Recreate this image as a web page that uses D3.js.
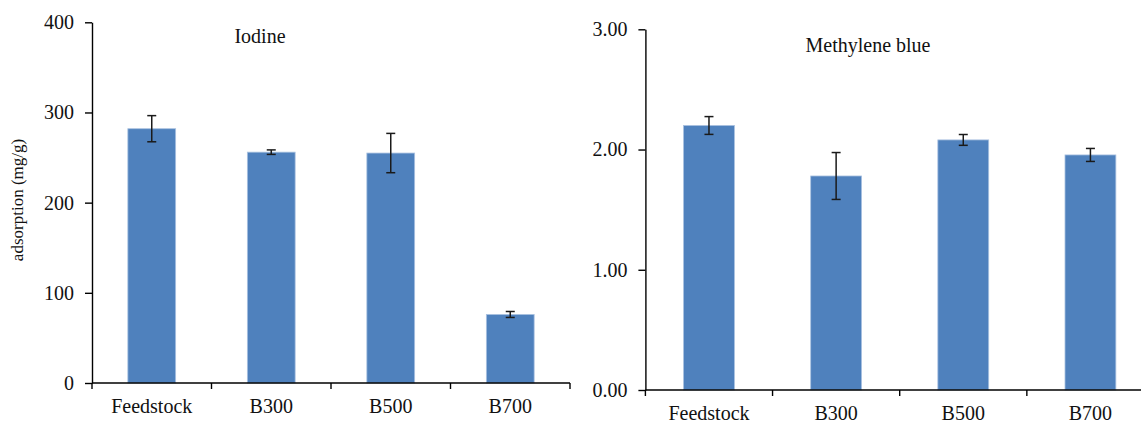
<!DOCTYPE html>
<html>
<head>
<meta charset="utf-8">
<script src="https://cdn.jsdelivr.net/npm/d3@7"></script>
<style>
  html, body { margin: 0; padding: 0; background: #fff; }
  svg { display: block; }
  text { font-family: "Liberation Serif", "Times New Roman", serif; fill: #111; }
</style>
</head>
<body>
<svg id="chart" width="1141" height="423"></svg>
<script>
// Sample categories
const categories = ["Feedstock", "B300", "B500", "B700"];

// Iodine adsorption (mg/g) with standard deviations
const iodineValues = [282, 256, 255, 76];
const iodineErrors = [14.5, 2.5, 21.8, 3.3];
const iodineTicks = [0, 100, 200, 300, 400];

// Methylene blue adsorption (mg/g) with standard deviations
const mbValues = [2.20, 1.78, 2.08, 1.955];
const mbErrors = [0.074, 0.195, 0.045, 0.054];
const mbTicks = [0, 1, 2, 3];

const serif = '"Liberation Serif", "Times New Roman", serif';
const svg = d3.select("#chart");
const barColor = "#4f81bd";

function panel(cfg) {
  const g = svg.append("g");
  const x = d3.scaleBand()
    .domain(categories)
    .range([cfg.x0, cfg.x1])
    .paddingInner(0.6)
    .paddingOuter(0.3);
  const y = d3.scaleLinear().domain(cfg.domain).range([cfg.y0, cfg.y1]);

  // bars
  g.selectAll("rect.bar")
    .data(categories)
    .join("rect")
    .attr("class", "bar")
    .attr("x", d => x(d))
    .attr("width", x.bandwidth())
    .attr("y", (d, i) => y(cfg.values[i]))
    .attr("height", (d, i) => y(0) - y(cfg.values[i]))
    .attr("fill", barColor)
    .attr("stroke", "#a9c1e0")
    .attr("stroke-width", 0.8);

  // error bars
  const cap = 4.5;
  const eb = g.selectAll("g.err")
    .data(categories)
    .join("g")
    .attr("class", "err")
    .attr("stroke", "#1a1a1a")
    .attr("stroke-width", 1.5);
  eb.append("line")
    .attr("x1", d => x(d) + x.bandwidth() / 2)
    .attr("x2", d => x(d) + x.bandwidth() / 2)
    .attr("y1", (d, i) => y(cfg.values[i] + cfg.errors[i]))
    .attr("y2", (d, i) => y(cfg.values[i] - cfg.errors[i]));
  eb.append("line")
    .attr("x1", d => x(d) + x.bandwidth() / 2 - cap)
    .attr("x2", d => x(d) + x.bandwidth() / 2 + cap)
    .attr("y1", (d, i) => y(cfg.values[i] + cfg.errors[i]))
    .attr("y2", (d, i) => y(cfg.values[i] + cfg.errors[i]));
  eb.append("line")
    .attr("x1", d => x(d) + x.bandwidth() / 2 - cap)
    .attr("x2", d => x(d) + x.bandwidth() / 2 + cap)
    .attr("y1", (d, i) => y(cfg.values[i] - cfg.errors[i]))
    .attr("y2", (d, i) => y(cfg.values[i] - cfg.errors[i]));

  // y axis
  const yAxis = g.append("g")
    .attr("transform", `translate(${cfg.x0},0)`)
    .call(d3.axisLeft(y).tickValues(cfg.ticks).tickFormat(cfg.fmt)
      .tickSize(7).tickPadding(11).tickSizeOuter(0))
    .attr("font-family", serif)
    .attr("font-size", 20);
  yAxis.selectAll("path, line").attr("stroke", "#000").attr("stroke-width", 1.4);
  yAxis.selectAll("text").attr("fill", "#111");

  // x axis with labels centred in each band
  const xAxis = g.append("g")
    .attr("transform", `translate(0,${cfg.y0})`)
    .call(d3.axisBottom(x).tickSize(0).tickPadding(16).tickSizeOuter(0))
    .attr("font-family", serif)
    .attr("font-size", 20);
  xAxis.select("path.domain").remove();
  xAxis.selectAll("text").attr("fill", "#111");

  // baseline and category boundary ticks
  xAxis.append("line")
    .attr("x1", cfg.x0).attr("x2", cfg.lineEnd)
    .attr("y1", 0).attr("y2", 0)
    .attr("stroke", "#000").attr("stroke-width", 1.4);
  const bounds = d3.range(categories.length + 1).map(i => cfg.x0 + i * x.step());
  xAxis.selectAll("line.bound")
    .data(bounds)
    .join("line")
    .attr("class", "bound")
    .attr("x1", d => d).attr("x2", d => d)
    .attr("y1", 0).attr("y2", 6)
    .attr("stroke", "#000").attr("stroke-width", 1.4);

  // panel title
  g.append("text")
    .attr("x", cfg.titleX).attr("y", cfg.titleY)
    .attr("text-anchor", "middle")
    .attr("font-size", 20)
    .text(cfg.title);
  return g;
}

panel({
  x0: 92, x1: 570, lineEnd: 570, y0: 383, y1: 22.3,
  domain: [0, 400], ticks: iodineTicks, fmt: d3.format("d"),
  values: iodineValues, errors: iodineErrors,
  title: "Iodine", titleX: 260, titleY: 43
});

panel({
  x0: 645.4, x1: 1154, lineEnd: 1160, y0: 390, y1: 29.3,
  domain: [0, 3], ticks: mbTicks, fmt: d3.format(".2f"),
  values: mbValues, errors: mbErrors,
  title: "Methylene blue", titleX: 868, titleY: 52
});

// y axis title for the iodine panel
svg.append("text")
  .attr("transform", "translate(23,200) rotate(-90)")
  .attr("text-anchor", "middle")
  .attr("font-size", 17)
  .text("adsorption (mg/g)");
</script>
</body>
</html>
